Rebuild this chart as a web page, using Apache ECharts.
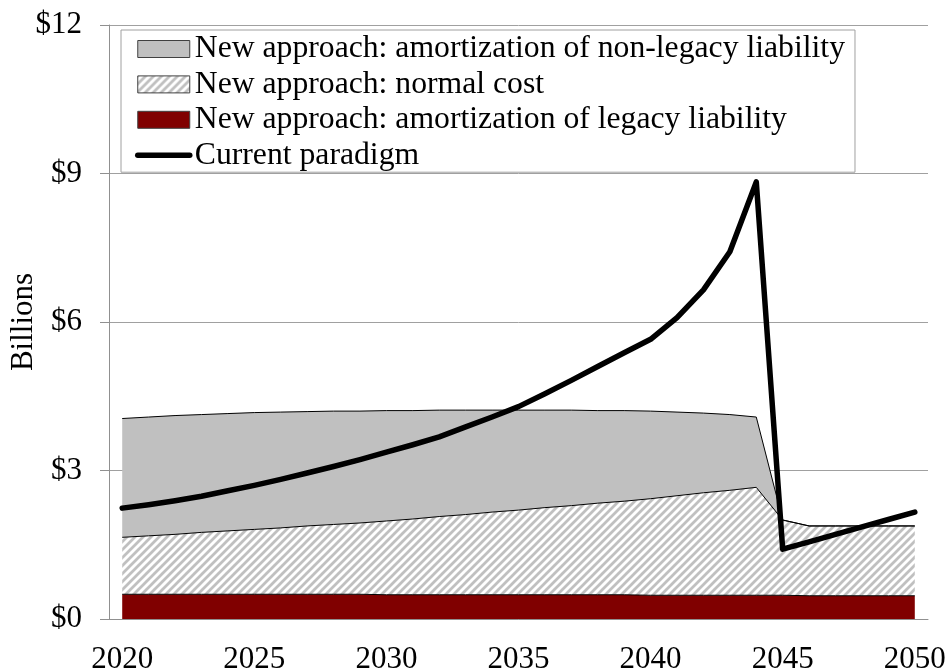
<!DOCTYPE html>
<html>
<head>
<meta charset="utf-8">
<script src="https://cdn.jsdelivr.net/npm/echarts@6/dist/echarts.min.js"></script>
<style>
  html, body { margin: 0; padding: 0; background: #fff; }
  #chart { width: 950px; height: 672px; }
</style>
</head>
<body>
<div id="chart"></div>
<script>
// years on the x axis
const years = [];
for (let y = 2020; y <= 2050; y++) years.push(String(y));

// $ billions
const legacyAmort = [
  0.50, 0.50, 0.50, 0.50, 0.50, 0.50, 0.50, 0.50, 0.50, 0.50,
  0.49, 0.49, 0.49, 0.49, 0.49, 0.49, 0.49, 0.49, 0.49, 0.49,
  0.48, 0.48, 0.48, 0.48, 0.48, 0.48,
  0.47, 0.47, 0.47, 0.47, 0.47
];
const normalCost = [
  1.15, 1.18, 1.21, 1.25, 1.28, 1.31, 1.34, 1.38, 1.41, 1.44,
  1.49, 1.53, 1.58, 1.62, 1.67, 1.71, 1.76, 1.80, 1.85, 1.89,
  1.95, 2.01, 2.07, 2.12, 2.18, 1.52,
  1.41, 1.41, 1.41, 1.41, 1.41
];
const nonLegacyAmort = [
  2.40, 2.40, 2.40, 2.38, 2.37, 2.36, 2.34, 2.31, 2.29, 2.26,
  2.23, 2.19, 2.15, 2.11, 2.06, 2.02, 1.97, 1.93, 1.87, 1.83,
  1.77, 1.69, 1.61, 1.53, 1.42, 0,
  0, 0, 0, 0, 0
];
const currentParadigm = [
  2.24, 2.31, 2.39, 2.48, 2.59, 2.70, 2.82, 2.95, 3.08, 3.22,
  3.37, 3.52, 3.68, 3.88, 4.08, 4.29, 4.55, 4.82, 5.10, 5.38,
  5.65, 6.09, 6.65, 7.42, 8.83, 1.41,
  1.56, 1.71, 1.86, 2.01, 2.16
];

const names = {
  nonLegacy: 'New approach: amortization of non-legacy liability',
  normal: 'New approach: normal cost',
  legacy: 'New approach: amortization of legacy liability',
  current: 'Current paradigm'
};

// diagonal hatch for the normal cost area
function makeHatch() {
  const c = document.createElement('canvas');
  c.width = 8;
  c.height = 8;
  const ctx = c.getContext('2d');
  ctx.fillStyle = '#fff';
  ctx.fillRect(0, 0, 8, 8);
  ctx.strokeStyle = '#c0c0c0';
  ctx.lineWidth = 2.8;
  ctx.beginPath();
  ctx.moveTo(-1, 9); ctx.lineTo(9, -1);
  ctx.moveTo(-5, 5); ctx.lineTo(5, -5);
  ctx.moveTo(3, 13); ctx.lineTo(13, 3);
  ctx.stroke();
  return { image: c, repeat: 'repeat' };
}
const hatch = makeHatch();

const font = 'Liberation Serif';
const fs = 31;
const chart = echarts.init(document.getElementById('chart'));

const option = {
  backgroundColor: '#fff',
  animation: false,
  textStyle: { fontFamily: font, color: '#000' },
  grid: { left: 109, right: 22, top: 25, bottom: 53, containLabel: false, outerBoundsMode: 'none' },
  legend: {
    orient: 'vertical',
    left: 121,
    top: 30,
    padding: [3, 10, 1, 14],
    itemGap: 3.4,
    itemWidth: 52,
    itemHeight: 17,
    borderColor: '#a0a0a0',
    borderWidth: 1,
    backgroundColor: '#fff',
    textStyle: { fontFamily: font, fontSize: 31.7, lineHeight: 31.3, color: '#000' },
    data: [
      { name: names.nonLegacy, icon: 'rect', itemStyle: { color: '#c0c0c0', borderColor: '#404040', borderWidth: 1 } },
      { name: names.normal, icon: 'rect', itemStyle: { color: hatch, borderColor: '#404040', borderWidth: 1 } },
      { name: names.legacy, icon: 'rect', itemStyle: { color: '#800000', borderColor: '#404040', borderWidth: 1 } },
      {
        name: names.current,
        itemStyle: { color: 'rgba(0,0,0,0)', borderWidth: 0, opacity: 0 },
        lineStyle: { color: '#000', width: 5.5, cap: 'round' }
      }
    ]
  },
  xAxis: {
    type: 'category',
    data: years,
    boundaryGap: true,
    axisLine: { lineStyle: { color: '#909090', width: 1 } },
    axisTick: { interval: 4, length: 9, lineStyle: { color: '#909090' } },
    axisLabel: { interval: 4, margin: 25, fontFamily: font, fontSize: fs, color: '#000' },
    splitLine: { show: false }
  },
  yAxis: {
    type: 'value',
    min: 0,
    max: 12,
    interval: 3,
    name: 'Billions',
    nameLocation: 'middle',
    nameRotate: 90,
    nameGap: 70,
    nameMoveOverlap: false,
    nameTextStyle: { fontFamily: font, fontSize: fs, color: '#000' },
    axisLine: { show: true, lineStyle: { color: '#909090', width: 1 } },
    axisTick: { show: true, length: 9, lineStyle: { color: '#909090' } },
    axisLabel: { margin: 27, fontFamily: font, fontSize: fs, color: '#000', formatter: '${value}' },
    splitLine: { lineStyle: { color: '#a0a0a0', width: 1 } }
  },
  series: [
    {
      name: names.legacy,
      type: 'line',
      stack: 'total',
      data: legacyAmort,
      showSymbol: false,
      lineStyle: { color: '#000', width: 1 },
      itemStyle: { color: '#800000' },
      areaStyle: { color: '#800000', opacity: 1 },
      z: 2
    },
    {
      name: names.normal,
      type: 'line',
      stack: 'total',
      data: normalCost,
      showSymbol: false,
      lineStyle: { color: '#000', width: 1 },
      itemStyle: { color: '#c0c0c0' },
      areaStyle: { color: hatch, opacity: 1 },
      z: 2
    },
    {
      name: names.nonLegacy,
      type: 'line',
      stack: 'total',
      data: nonLegacyAmort,
      showSymbol: false,
      lineStyle: { color: '#000', width: 1 },
      itemStyle: { color: '#c0c0c0' },
      areaStyle: { color: '#c0c0c0', opacity: 1 },
      z: 2
    },
    {
      name: names.current,
      type: 'line',
      data: currentParadigm,
      showSymbol: false,
      symbol: 'none',
      lineStyle: { color: '#000', width: 5.5, cap: 'round', join: 'round' },
      itemStyle: { color: '#000' },
      z: 5
    }
  ]
};

chart.setOption(option);
</script>
</body>
</html>
